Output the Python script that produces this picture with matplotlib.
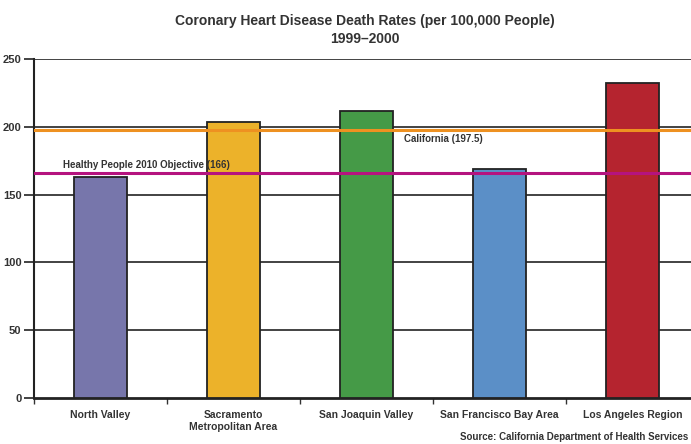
import matplotlib.pyplot as plt

regions = ["North Valley", "Sacramento\nMetropolitan Area", "San Joaquin Valley",
           "San Francisco Bay Area", "Los Angeles Region"]
rates = [163, 203.5, 211.5, 169, 232.5]
bar_colors = ["#7776AB", "#ECB22A", "#459A47", "#5B8FC7", "#B5242F"]

california = 197.5
objective = 166
yticks = [0, 50, 100, 150, 200, 250]

plt.rcParams['font.family'] = ['Liberation Sans', 'DejaVu Sans']

fig = plt.figure(figsize=(6.91, 4.44), dpi=100)
ax = fig.add_axes([34/691, 1-398/444, 665/691, 339/444])

x = list(range(len(regions)))
ax.bar(x, rates, width=0.4, color=bar_colors, edgecolor="#222222", linewidth=1.3, zorder=3)

for y in yticks[1:]:
    ax.axhline(y, color="#222222", linewidth=1.2, zorder=1)

ax.axhline(california, color="#EE9121", linewidth=2.2, zorder=4)
ax.axhline(objective, color="#B5137F", linewidth=2.2, zorder=4)
ax.text(2.28, california - 3, "California (197.5)", fontsize=7, fontweight="bold",
        color="#333333", va="top", ha="left", zorder=5)
ax.text(-0.28, objective + 2.5, "Healthy People 2010 Objective (166)", fontsize=7,
        fontweight="bold", color="#333333", va="bottom", ha="left", zorder=5)

ax.set_xlim(-0.5, 4.5)
ax.set_ylim(0, 250)
ax.set_yticks(yticks)
ax.set_xticks(x)
ax.set_xticklabels(regions, fontsize=7.5, fontweight="bold", color="#333333")
ax.set_xticks([i - 0.5 for i in range(len(regions) + 1)], minor=True)
ax.tick_params(axis="x", which="major", length=0, pad=9)
ax.tick_params(axis="x", which="minor", length=4, width=1, color="#333333")
ax.tick_params(axis="y", length=7, width=1.2, labelsize=8, pad=2, color="#222222")
for lbl in ax.get_yticklabels():
    lbl.set_fontweight("bold")
    lbl.set_color("#333333")

for s in ["top", "right"]:
    ax.spines[s].set_visible(False)
ax.spines["left"].set_linewidth(1.5)
ax.spines["bottom"].set_linewidth(2)
ax.spines["left"].set_color("#222222")
ax.spines["bottom"].set_color("#222222")

fig.text(365/691, 1-30/444, "Coronary Heart Disease Death Rates (per 100,000 People)\n1999\u20132000",
         ha="center", va="center", fontsize=10, fontweight="bold", color="#333333",
         linespacing=1.35)
fig.text(688/691, 1-437/444, "Source: California Department of Health Services",
         ha="right", va="center", fontsize=7, fontweight="bold", color="#333333")

fig.savefig("out.png", dpi=100)
